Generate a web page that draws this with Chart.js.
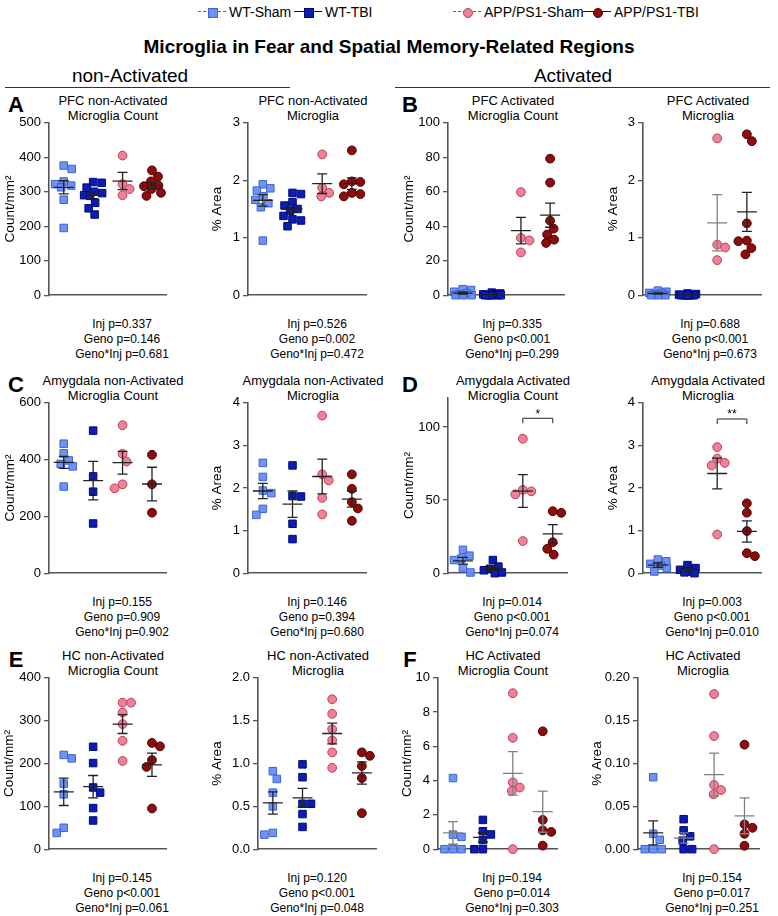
<!DOCTYPE html>
<html><head><meta charset="utf-8">
<script src="https://cdn.jsdelivr.net/npm/chart.js@4.4.0/dist/chart.umd.min.js"></script>
<style>
body{margin:0;width:778px;height:916px;background:#fff;position:relative;overflow:hidden;font-family:"Liberation Sans",Arial,sans-serif;color:#000}
.t{position:absolute;white-space:nowrap;transform:translate(-50%,-50%);line-height:1}
.l{position:absolute;white-space:nowrap;transform:translateY(-50%);line-height:1}
canvas{position:absolute}
</style></head><body>
<script>
// ---------- DATA ----------
const groups = ['WT-Sham', 'WT-TBI', 'APP/PS1-Sham', 'APP/PS1-TBI'];

// A: PFC non-Activated Microglia Count
const pfcNonCount = [[376, 366, 330, 322, 318, 313, 277, 195],[328, 326, 312, 300, 296, 290, 288, 268, 252, 234],[405, 322, 308, 290],[362, 344, 330, 318, 316, 308, 297, 288]];
const pfcNonCountMean = [313, 290, 331, 318];
const pfcNonCountSem = [19, 10, 25, 9];
const pfcNonCountStats = ['Inj p=0.337', 'Geno p=0.146', 'Geno*Inj p=0.681'];
// A: PFC non-Activated Microglia % Area
const pfcNonArea = [[1.93, 1.86, 1.82, 1.72, 1.66, 1.60, 1.53, 0.95],[1.78, 1.76, 1.62, 1.56, 1.50, 1.47, 1.38, 1.32, 1.30, 1.20],[2.45, 1.87, 1.78, 1.72],[2.52, 1.98, 1.97, 1.93, 1.78, 1.76, 1.72]];
const pfcNonAreaMean = [1.65, 1.50, 1.94, 1.94];
const pfcNonAreaSem = [0.10, 0.06, 0.17, 0.10];
const pfcNonAreaStats = ['Inj p=0.526', 'Geno p=0.002', 'Geno*Inj p=0.472'];
// B: PFC Activated Microglia Count
const pfcActCount = [[3.5, 3, 2, 1, 0.5, 0, 0, 0],[1.5, 1, 0.5, 0.5, 0, 0, 0, 0, 0, 0],[59.8, 33.3, 31.8, 24.8],[79.2, 65.3, 43.2, 38.6, 35.2, 32.2, 30.3]];
const pfcActCountMean = [1.2, 0.4, 37.5, 46.4];
const pfcActCountSem = [0.5, 0.2, 7.7, 7.0];
const pfcActCountStats = ['Inj p=0.335', 'Geno p<0.001', 'Geno*Inj p=0.299'];
// B: PFC Activated Microglia % Area
const pfcActArea = [[0.08, 0.06, 0.04, 0.03, 0.02, 0, 0, 0],[0.03, 0.02, 0.01, 0, 0, 0, 0, 0, 0, 0],[2.73, 0.88, 0.83, 0.61],[2.80, 2.68, 1.25, 0.95, 0.94, 0.82, 0.71]];
const pfcActAreaMean = [0.03, 0.01, 1.26, 1.45];
const pfcActAreaSem = [0.01, 0.005, 0.49, 0.34];
const pfcActAreaStats = ['Inj p=0.688', 'Geno p<0.001', 'Geno*Inj p=0.673'];
// C: Amygdala non-Activated Microglia Count
const amyNonCount = [[456, 422, 397, 385, 376, 305],[502, 341, 287, 175],[521, 420, 393, 313, 299],[417, 313, 213]];
const amyNonCountMean = [390, 326, 389, 314];
const amyNonCountSem = [21, 68, 40, 59];
const amyNonCountStats = ['Inj p=0.155', 'Geno p=0.909', 'Geno*Inj p=0.902'];
// C: Amygdala non-Activated Microglia % Area
const amyNonArea = [[2.59, 2.26, 1.94, 1.88, 1.51, 1.37],[2.53, 1.81, 1.80, 1.16, 0.80],[3.70, 2.32, 2.18, 1.77, 1.38],[2.32, 1.98, 1.67, 1.52, 1.23]];
const amyNonAreaMean = [1.93, 1.62, 2.27, 1.74];
const amyNonAreaSem = [0.18, 0.31, 0.41, 0.19];
const amyNonAreaStats = ['Inj p=0.146', 'Geno p=0.394', 'Geno*Inj p=0.680'];
// D: Amygdala Activated Microglia Count
const amyActCount = [[16, 12, 10, 9, 3.5, 0.5],[9, 4.5, 3, 2, 0.5, 0],[92, 57, 56, 54, 22],[42.4, 41.3, 21.2, 16.7, 12.7]];
const amyActCountMean = [8.5, 3.2, 56.2, 26.9];
const amyActCountSem = [2.3, 1.4, 11.2, 6.3];
const amyActCountStats = ['Inj p=0.014', 'Geno p<0.001', 'Geno*Inj p=0.074'];
const amyActCountSig = {from: 2, to: 3, y: 106, label: '*'};
// D: Amygdala Activated Microglia % Area
const amyActArea = [[0.32, 0.28, 0.22, 0.18, 0.12, 0.04],[0.19, 0.12, 0.08, 0.04, 0.02, 0],[2.96, 2.69, 2.59, 2.53, 0.91],[1.64, 1.42, 0.99, 0.47, 0.40]];
const amyActAreaMean = [0.19, 0.08, 2.34, 0.98];
const amyActAreaSem = [0.05, 0.03, 0.36, 0.25];
const amyActAreaStats = ['Inj p=0.003', 'Geno p<0.001', 'Geno*Inj p=0.010'];
const amyActAreaSig = {from: 2, to: 3, y: 3.62, label: '**'};
// E: HC non-Activated Microglia Count
const hcNonCount = [[220, 212, 153, 128, 50, 38],[239, 201, 144, 132, 96, 67],[342, 342, 319, 292, 253, 206],[248, 240, 208, 192, 95]];
const hcNonCountMean = [134, 146, 292, 197];
const hcNonCountSem = [32, 26, 22, 27];
const hcNonCountStats = ['Inj p=0.145', 'Geno p<0.001', 'Geno*Inj p=0.061'];
// E: HC non-Activated Microglia % Area
const hcNonArea = [[0.91, 0.82, 0.66, 0.50, 0.19, 0.17],[0.99, 0.84, 0.53, 0.53, 0.41, 0.26],[1.75, 1.58, 1.40, 1.27, 1.13, 0.95],[1.13, 1.09, 0.97, 0.83, 0.42]];
const hcNonAreaMean = [0.54, 0.60, 1.35, 0.89];
const hcNonAreaSem = [0.13, 0.11, 0.12, 0.13];
const hcNonAreaStats = ['Inj p=0.120', 'Geno p<0.001', 'Geno*Inj p=0.048'];
// F: HC Activated Microglia Count
const hcActCount = [[4.15, 0.85, 0.72, 0, 0, 0],[1.71, 1.05, 0.86, 0.53, 0, 0],[9.1, 6.5, 3.9, 3.6, 3.4, 0],[6.88, 1.71, 1.10, 1.01, 0.21]];
const hcActCountMean = [0.95, 0.69, 4.42, 2.19];
const hcActCountSem = [0.66, 0.27, 1.27, 1.2];
const hcActCountStats = ['Inj p=0.194', 'Geno p=0.014', 'Geno*Inj p=0.303'];
// F: HC Activated Microglia % Area
const hcActArea = [[0.084, 0.018, 0.011, 0, 0, 0],[0.035, 0.022, 0.015, 0.010, 0, 0],[0.181, 0.132, 0.075, 0.069, 0.064, 0],[0.122, 0.029, 0.025, 0.018, 0.004]];
const hcActAreaMean = [0.019, 0.013, 0.087, 0.039];
const hcActAreaSem = [0.014, 0.006, 0.025, 0.021];
const hcActAreaStats = ['Inj p=0.154', 'Geno p=0.017', 'Geno*Inj p=0.251'];

// tick labels / axis ranges
const ticks500 = [0, 100, 200, 300, 400, 500];
const ticks3 = [0, 1, 2, 3];
const ticks100 = [0, 20, 40, 60, 80, 100];
const ticks600 = [0, 200, 400, 600];
const ticks4 = [0, 1, 2, 3, 4];
const ticks120 = [0, 50, 100];
const ticks400 = [0, 100, 200, 300, 400];
const ticks2 = [0, 0.5, 1.0, 1.5, 2.0];
const ticks10 = [0, 2, 4, 6, 8, 10];
const ticks020 = [0, 0.05, 0.10, 0.15, 0.20];

const titleTexts = {
  mainTitle: 'Microglia in Fear and Spatial Memory-Related Regions',
  left: 'non-Activated', right: 'Activated'
};

// ---------- STYLE ----------
Chart.defaults.font.family = '"Liberation Sans", Arial, Helvetica, sans-serif';
Chart.defaults.color = '#000';
const groupStyle = [
  {fill: 'rgba(100,138,240,0.92)', border: '#3d62d6', shape: 'rect', r: 5.3, dash: true, legendShape: 'sq'},
  {fill: '#0b1db2', border: '#00097a', shape: 'rect', r: 5.3, dash: false, legendShape: 'sq'},
  {fill: '#f27f98', border: '#b63f5a', shape: 'circle', r: 4.4, dash: true, legendShape: 'ci'},
  {fill: '#8e0c0c', border: '#4a0000', shape: 'circle', r: 4.4, dash: false, legendShape: 'ci'}
];
const K = '#222', G = '#808080';

const panels = [
  {v: pfcNonCount, m: pfcNonCountMean, s: pfcNonCountSem, st: pfcNonCountStats, tk: ticks500, ymax: 500, dec: 0, yt: 'Count/mm²', tt: ['PFC non-Activated', 'Microglia Count'], ax: 49, ae: 167, top: 123, bot: 299, row: 123, tx: 10, sx: 122, hx: 113, err: [K, K, K, K]},
  {v: pfcNonArea, m: pfcNonAreaMean, s: pfcNonAreaSem, st: pfcNonAreaStats, tk: ticks3, ymax: 3, dec: 0, yt: '% Area', tt: ['PFC non-Activated', 'Microglia'], ax: 248, ae: 367, top: 123, bot: 299, row: 123, tx: 217, sx: 317, hx: 313, err: [K, K, K, K]},
  {v: pfcActCount, m: pfcActCountMean, s: pfcActCountSem, st: pfcActCountStats, tk: ticks100, ymax: 100, dec: 0, yt: 'Count/mm²', tt: ['PFC Activated', 'Microglia Count'], ax: 448, ae: 565, top: 123, bot: 299, row: 123, tx: 409, sx: 512, hx: 513, err: [K, K, K, K]},
  {v: pfcActArea, m: pfcActAreaMean, s: pfcActAreaSem, st: pfcActAreaStats, tk: ticks3, ymax: 3, dec: 0, yt: '% Area', tt: ['PFC Activated', 'Microglia'], ax: 643, ae: 762, top: 123, bot: 299, row: 123, tx: 613, sx: 710, hx: 708, err: [K, K, G, K]},
  {v: amyNonCount, m: amyNonCountMean, s: amyNonCountSem, st: amyNonCountStats, tk: ticks600, ymax: 600, dec: 0, yt: 'Count/mm²', tt: ['Amygdala non-Activated', 'Microglia Count'], ax: 49, ae: 167, top: 403, bot: 577, row: 403, tx: 10, sx: 122, hx: 113, err: [K, K, K, K]},
  {v: amyNonArea, m: amyNonAreaMean, s: amyNonAreaSem, st: amyNonAreaStats, tk: ticks4, ymax: 4, dec: 0, yt: '% Area', tt: ['Amygdala non-Activated', 'Microglia'], ax: 248, ae: 367, top: 403, bot: 577, row: 403, tx: 217, sx: 317, hx: 313, err: [K, K, K, K]},
  {v: amyActCount, m: amyActCountMean, s: amyActCountSem, st: amyActCountStats, tk: ticks120, ymax: 120, dec: 0, yt: 'Count/mm²', tt: ['Amygdala Activated', 'Microglia Count'], ax: 448, ae: 568, top: 398, bot: 577, row: 403, tx: 409, sx: 512, hx: 513, err: [K, K, K, K], sig: amyActCountSig},
  {v: amyActArea, m: amyActAreaMean, s: amyActAreaSem, st: amyActAreaStats, tk: ticks4, ymax: 4, dec: 0, yt: '% Area', tt: ['Amygdala Activated', 'Microglia'], ax: 643, ae: 762, top: 403, bot: 577, row: 403, tx: 613, sx: 712, hx: 708, err: [K, K, K, K], sig: amyActAreaSig},
  {v: hcNonCount, m: hcNonCountMean, s: hcNonCountSem, st: hcNonCountStats, tk: ticks400, ymax: 400, dec: 0, yt: 'Count/mm²', tt: ['HC non-Activated', 'Microglia Count'], ax: 49, ae: 167, top: 678, bot: 853, row: 678, tx: 9, sx: 122, hx: 113, err: [K, K, K, K]},
  {v: hcNonArea, m: hcNonAreaMean, s: hcNonAreaSem, st: hcNonAreaStats, tk: ticks2, ymax: 2, dec: 1, yt: '% Area', tt: ['HC non-Activated', 'Microglia'], ax: 258, ae: 377, top: 678, bot: 853, row: 678, tx: 217, sx: 317, hx: 318, err: [K, K, K, K]},
  {v: hcActCount, m: hcActCountMean, s: hcActCountSem, st: hcActCountStats, tk: ticks10, ymax: 10, dec: 0, yt: 'Count/mm²', tt: ['HC Activated', 'Microglia Count'], ax: 438, ae: 558, top: 678, bot: 853, row: 678, tx: 407, sx: 512, hx: 503, err: [G, K, G, G]},
  {v: hcActArea, m: hcActAreaMean, s: hcActAreaSem, st: hcActAreaStats, tk: ticks020, ymax: 0.2, dec: 2, yt: '% Area', tt: ['HC Activated', 'Microglia'], ax: 638, ae: 760, top: 678, bot: 853, row: 678, tx: 597, sx: 712, hx: 703, err: [K, G, G, G]}
];
const letters = [['A', 16, 105], ['B', 410, 105], ['C', 16, 385], ['D', 410, 385], ['E', 16, 660], ['F', 410, 660]];

// ---------- PLUGINS ----------
const swarm = {
  id: 'swarm',
  afterDatasetsUpdate(chart) {
    const o = chart.options.plugins.swarm;
    const xs = chart.scales.x;
    chart.data.datasets.forEach((ds, g) => {
      const meta = chart.getDatasetMeta(g);
      const cx = xs.getPixelForValue(g);
      const order = meta.data.map((_, i) => i).sort((a, b) => meta.data[a].y - meta.data[b].y);
      const placed = [];
      let flip = 1;
      order.forEach(i => {
        const y = meta.data[i].y;
        const cands = [0];
        for (let s = 0.5; s <= o.max; s += 0.5) cands.push(s * flip, -s * flip);
        let best = 0, bestScore = -1;
        for (const off of cands) {
          let md = Infinity;
          for (const p of placed) { const d = Math.hypot(p.x - off, p.y - y); if (d < md) md = d; }
          if (md >= o.d) { best = off; bestScore = Infinity; break; }
          if (md > bestScore) { bestScore = md; best = off; }
        }
        if (best > 0) flip = -1; else if (best < 0) flip = 1;
        placed.push({x: best, y});
        meta.data[i].x = cx + best;
      });
    });
  }
};
const errbars = {
  id: 'errbars',
  afterDatasetsDraw(chart) {
    const o = chart.options.plugins.errbars;
    const ctx = chart.ctx, xs = chart.scales.x, ys = chart.scales.y;
    ctx.save();
    ctx.lineWidth = 1.3;
    o.mean.forEach((m, g) => {
      const x = xs.getPixelForValue(g);
      const ym = ys.getPixelForValue(m);
      const yt = ys.getPixelForValue(m + o.sem[g]);
      const yb = ys.getPixelForValue(Math.max(0, m - o.sem[g]));
      ctx.strokeStyle = o.colors[g];
      ctx.beginPath();
      ctx.moveTo(x - 10, ym); ctx.lineTo(x + 10, ym);
      ctx.moveTo(x, yt); ctx.lineTo(x, yb);
      ctx.moveTo(x - 5, yt); ctx.lineTo(x + 5, yt);
      ctx.moveTo(x - 5, yb); ctx.lineTo(x + 5, yb);
      ctx.stroke();
    });
    if (o.sig) {
      const b = o.sig;
      const x1 = xs.getPixelForValue(b.from), x2 = xs.getPixelForValue(b.to), y = ys.getPixelForValue(b.y);
      ctx.strokeStyle = '#222'; ctx.lineWidth = 1;
      ctx.beginPath();
      ctx.moveTo(x1, y + 5); ctx.lineTo(x1, y); ctx.lineTo(x2, y); ctx.lineTo(x2, y + 5);
      ctx.stroke();
      ctx.fillStyle = '#000'; ctx.font = '12px "Liberation Sans", Arial, sans-serif';
      ctx.textAlign = 'center'; ctx.textBaseline = 'bottom';
      ctx.fillText(b.label, (x1 + x2) / 2, y + 2);
    }
    ctx.restore();
  }
};

// ---------- TEXT HELPERS ----------
function txt(s, x, y, css, cls) {
  const d = document.createElement('div');
  d.className = cls || 't';
  d.textContent = s;
  d.style.left = x + 'px'; d.style.top = y + 'px';
  d.style.cssText += css || '';
  document.body.appendChild(d);
  return d;
}
function box(css) {
  const d = document.createElement('div');
  d.style.cssText = 'position:absolute;' + css;
  document.body.appendChild(d);
}

// legend
const legendX = [212, 308, 467, 597];
groups.forEach((name, g) => {
  const st = groupStyle[g], cx = legendX[g], cy = 12;
  box(`left:${cx - 14}px;top:${cy - 1}px;width:28px;height:0;border-top:1.5px ${st.dash ? 'dashed' : 'solid'} ${st.border};`);
  if (st.legendShape === 'sq') box(`left:${cx - 4.5}px;top:${cy - 4.5}px;width:8px;height:8px;background:${st.fill};border:1px solid ${st.border};`);
  else box(`left:${cx - 4.5}px;top:${cy - 4.5}px;width:8px;height:8px;border-radius:50%;background:${st.fill};border:1px solid ${st.border};`);
  txt(name, cx + 17, cy, 'font-size:14px;', 'l');
});
txt(titleTexts.mainTitle, 389, 46, 'font-size:19px;font-weight:bold;');
txt(titleTexts.left, 130, 75, 'font-size:19px;');
txt(titleTexts.right, 573, 75, 'font-size:19px;');
box('left:5px;top:87px;width:285px;height:0;border-top:1.2px solid #333;');
box('left:395px;top:87px;width:375px;height:0;border-top:1.2px solid #333;');
letters.forEach(([L, x, y]) => txt(L, x, y, 'font-size:22px;font-weight:bold;'));

// ---------- CHARTS ----------
panels.forEach(P => {
  P.tt.forEach((line, i) => txt(line, P.hx, P.row - 23 + 15 * i, 'font-size:13px;'));
  P.st.forEach((line, i) => txt(line, P.sx, P.bot + 25 + 15 * i, 'font-size:12px;'));
  const left = P.tx - 8, topC = P.top - 10;
  const W = Math.round(P.ae + 6 - left), H = Math.round(P.bot + 8 - topC);
  const cv = document.createElement('canvas');
  cv.width = W; cv.height = H;
  cv.style.left = left + 'px'; cv.style.top = topC + 'px';
  cv.style.width = W + 'px'; cv.style.height = H + 'px';
  document.body.appendChild(cv);
  const yw = P.ax - left;
  const chart = new Chart(cv, {
    type: 'scatter',
    data: {
      datasets: P.v.map((vals, g) => ({
        label: groups[g],
        data: vals.map(v => ({x: g, y: v})),
        pointStyle: groupStyle[g].shape,
        pointRadius: groupStyle[g].r,
        backgroundColor: groupStyle[g].fill,
        borderColor: groupStyle[g].border,
        borderWidth: 1,
        clip: false
      }))
    },
    options: {
      responsive: false, maintainAspectRatio: false, animation: false, events: [],
      layout: {padding: {top: 10, bottom: 8, left: 0, right: 6}},
      plugins: {
        legend: {display: false}, tooltip: {enabled: false},
        swarm: {d: 8.5, max: 9},
        errbars: {mean: P.m, sem: P.s, colors: P.err, sig: P.sig}
      },
      scales: {
        x: {type: 'linear', min: -0.5, max: 3.5, ticks: {display: false},
            grid: {display: false, drawTicks: false},
            border: {display: true, color: '#555', width: 1.6},
            afterFit(s) { s.height = 0; }},
        y: {type: 'linear', min: 0, max: P.ymax,
            afterBuildTicks(s) { s.ticks = P.tk.map(v => ({value: v})); },
            ticks: {callback: v => Number(v).toFixed(P.dec), font: {size: 13}, padding: 3, color: '#000'},
            grid: {display: true, drawOnChartArea: false, drawTicks: true, tickLength: 5, color: '#555', lineWidth: 1.3},
            border: {display: true, color: '#555', width: 1.6},
            title: {display: true, text: P.yt, font: {size: 13.5}, padding: {top: 0, bottom: 0}, color: '#000'},
            afterFit(s) { s.width = yw; }}
      }
    },
    plugins: [swarm, errbars]
  });
  const ca = chart.chartArea;
  cv.style.left = (P.ax - ca.left) + 'px';
  cv.style.top = (P.top - ca.top) + 'px';
});
</script>
</body></html>
